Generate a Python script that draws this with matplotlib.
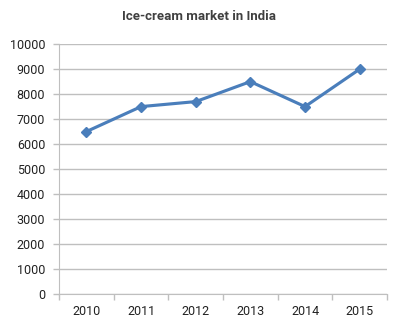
import matplotlib.pyplot as plt

years = ["2010", "2011", "2012", "2013", "2014", "2015"]
market = [6500, 7500, 7700, 8500, 7500, 9000]
y_ticks = list(range(0, 10001, 1000))

plt.rcParams['font.family'] = ['Roboto', 'DejaVu Sans']

fig = plt.figure(figsize=(3.99, 3.27), dpi=100)
ax = fig.add_axes([0.148, 0.101, 0.822, 0.764])

x = list(range(len(years)))
ax.plot(x, market, color='#4A7EBB', linewidth=2.25, marker='D', markersize=5.5, zorder=3)

ax.set_xlim(-0.5, len(years) - 0.5)
ax.set_ylim(0, 10000)
ax.set_yticks(y_ticks)
ax.set_yticklabels([str(v) for v in y_ticks], fontsize=9, color='#222222')

# category labels sit between the boundary ticks
ax.set_xticks(x)
ax.set_xticklabels(years, fontsize=9, color='#222222')
ax.set_xticks([i - 0.5 for i in range(len(years) + 1)], minor=True)
ax.tick_params(axis='x', which='major', length=0, pad=8)
ax.tick_params(axis='x', which='minor', length=4, color='#BFBFBF', width=1)
ax.tick_params(axis='y', length=4, color='#BFBFBF', width=1, pad=6)

ax.grid(axis='y', color='#BFBFBF', linewidth=1)
ax.set_axisbelow(True)
for side in ('top', 'right'):
    ax.spines[side].set_visible(False)
ax.spines['left'].set_color('#BFBFBF')
ax.spines['bottom'].set_color('#BFBFBF')

fig.text(0.5, 0.95, "Ice-cream market in India", ha='center', va='center',
         fontsize=9.5, fontweight='bold', color='#404040')

fig.savefig("out.png", dpi=100)
